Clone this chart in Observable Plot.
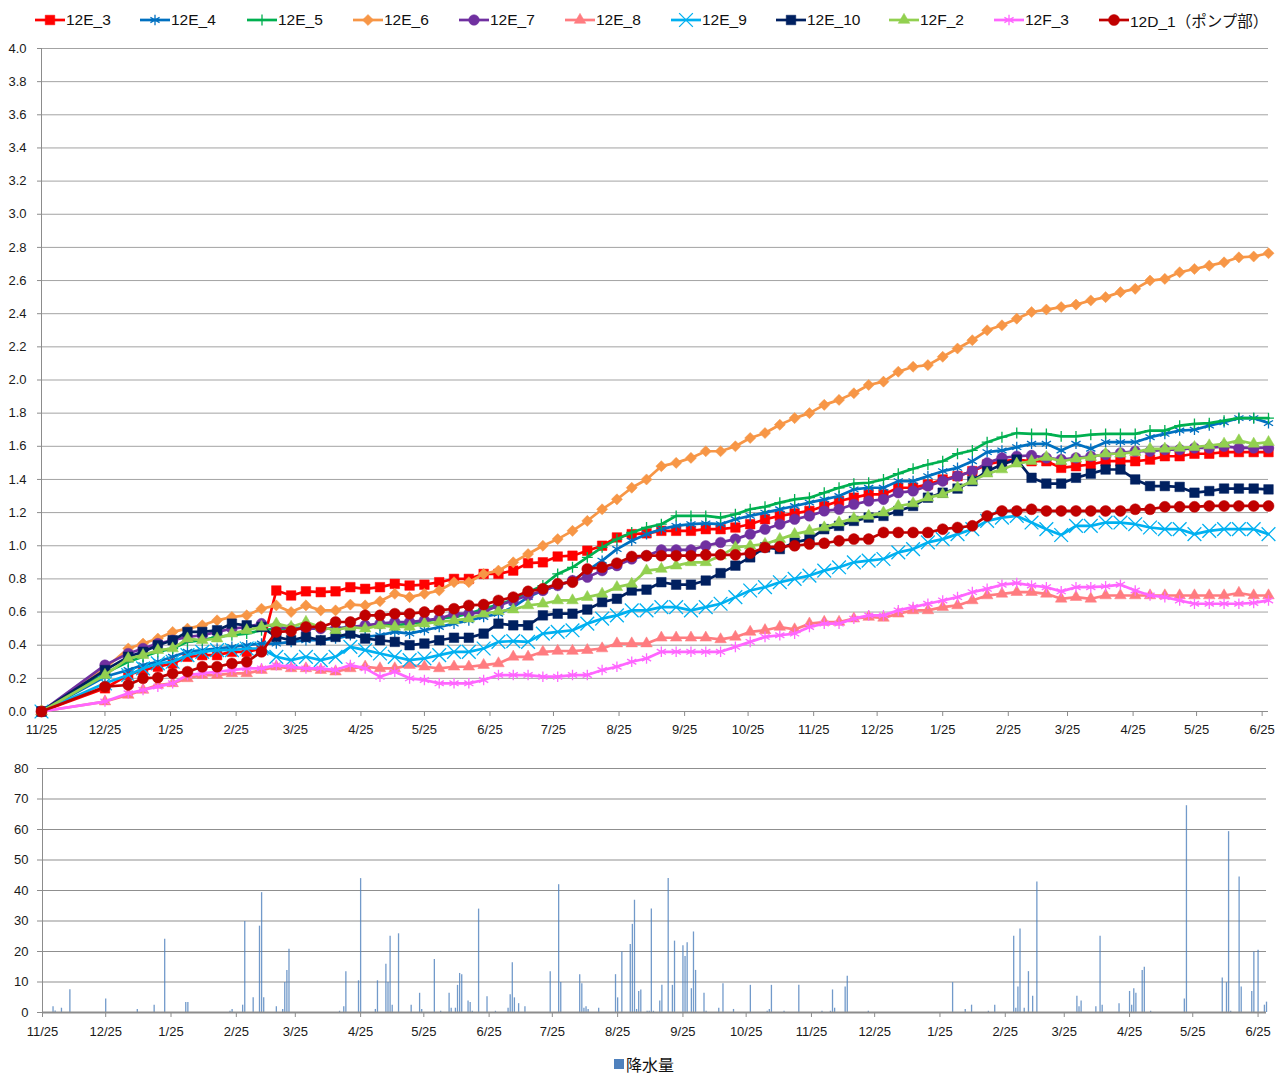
<!DOCTYPE html>
<html><head><meta charset="utf-8">
<script src="https://cdn.jsdelivr.net/npm/d3@7"></script>
<script src="https://cdn.jsdelivr.net/npm/@observablehq/plot@0.6"></script>
<style>
body{margin:0;background:#fff;font-family:"Liberation Sans","Noto Sans CJK JP",sans-serif;}
#wrap{position:relative;width:1287px;height:1075px;overflow:hidden;background:#fff;}
.li{position:absolute;top:10px;height:20px;display:flex;align-items:center;font-size:15.5px;color:#111;white-space:nowrap;}
.li svg{display:block;margin-right:1px;}
#topchart{position:absolute;left:0;top:40px;}
#bottomchart{position:absolute;left:0;top:740px;}
#leg2{position:absolute;left:614px;top:1052px;display:flex;align-items:center;font-size:16px;color:#111;font-family:"Noto Sans CJK JP",sans-serif;}
#leg2 span.sq{display:inline-block;width:10px;height:10px;background:#4F81BD;margin-right:2px;}
</style></head><body>
<div id="wrap"><div id="legend"></div><div id="topchart"></div><div id="bottomchart"></div>
<div id="leg2"><span class="sq"></span><span>降水量</span></div></div>
<script>
// ---------- data ----------
const dates = ["2012-11-25","2012-12-25",
"2013-01-05","2013-01-12","2013-01-19","2013-01-26","2013-02-02","2013-02-09","2013-02-16","2013-02-23",
"2013-03-02","2013-03-09","2013-03-16","2013-03-23","2013-03-30","2013-04-06","2013-04-13","2013-04-20","2013-04-27",
"2013-05-04","2013-05-11","2013-05-18","2013-05-25","2013-06-01","2013-06-08","2013-06-15","2013-06-22","2013-06-29",
"2013-07-06","2013-07-13","2013-07-20","2013-07-27","2013-08-03","2013-08-10","2013-08-17","2013-08-24","2013-08-31",
"2013-09-07","2013-09-14","2013-09-21","2013-09-28","2013-10-05","2013-10-12","2013-10-19","2013-10-26",
"2013-11-02","2013-11-09","2013-11-16","2013-11-23","2013-11-30","2013-12-07","2013-12-14","2013-12-21","2013-12-28",
"2014-01-04","2014-01-11","2014-01-18","2014-01-25","2014-02-01","2014-02-08","2014-02-15","2014-02-22",
"2014-03-01","2014-03-08","2014-03-15","2014-03-22","2014-03-29","2014-04-05","2014-04-12","2014-04-19","2014-04-26",
"2014-05-03","2014-05-10","2014-05-17","2014-05-24","2014-05-31","2014-06-07","2014-06-14","2014-06-21","2014-06-28"];

const s12E_3 = [0,0.14,0.22,0.25,0.27,0.29,0.33,0.34,0.34,0.36,0.36,0.38,
0.73,0.70,0.725,0.72,0.725,0.75,0.74,0.75,0.77,0.76,
0.765,0.78,0.80,0.80,0.83,0.83,0.85,0.895,0.90,0.935,
0.94,0.97,1.00,1.05,1.07,1.075,1.09,1.09,1.09,1.10,
1.10,1.11,1.13,1.16,1.18,1.195,1.21,1.24,1.27,1.29,
1.31,1.31,1.35,1.35,1.37,1.40,1.42,1.45,1.49,1.51,
1.52,1.51,1.51,1.47,1.48,1.49,1.51,1.51,1.51,1.52,
1.54,1.54,1.555,1.555,1.565,1.565,1.565,1.565];
const s12E_4 = [0,0.21,0.25,0.28,0.30,0.33,0.36,0.37,0.38,0.39,0.40,0.41,
0.41,0.42,0.43,0.43,0.44,0.46,0.45,0.46,0.48,0.47,
0.49,0.51,0.53,0.55,0.57,0.59,0.63,0.69,0.73,0.76,
0.79,0.85,0.91,0.98,1.03,1.07,1.10,1.12,1.13,1.135,
1.13,1.16,1.18,1.20,1.22,1.24,1.26,1.28,1.30,1.34,
1.35,1.35,1.39,1.39,1.42,1.45,1.47,1.51,1.565,1.575,
1.595,1.615,1.615,1.575,1.615,1.585,1.625,1.625,1.625,1.655,
1.675,1.695,1.70,1.725,1.745,1.77,1.77,1.74];
const s12E_5 = [0,0.23,0.30,0.33,0.36,0.38,0.42,0.43,0.45,0.46,0.47,0.49,
0.50,0.50,0.51,0.50,0.50,0.51,0.51,0.52,0.52,0.53,
0.54,0.56,0.57,0.59,0.62,0.645,0.675,0.72,0.76,0.83,
0.87,0.93,0.99,1.04,1.08,1.11,1.13,1.18,1.18,1.18,
1.17,1.19,1.22,1.235,1.26,1.28,1.29,1.32,1.35,1.375,
1.38,1.40,1.435,1.465,1.49,1.51,1.555,1.575,1.625,1.655,
1.68,1.675,1.675,1.66,1.66,1.67,1.675,1.675,1.675,1.695,
1.695,1.725,1.735,1.74,1.755,1.77,1.77,1.77];
const s12E_6 = [0,0.26,0.38,0.41,0.44,0.48,0.50,0.52,0.55,0.57,0.58,0.62,
0.64,0.60,0.64,0.61,0.61,0.645,0.64,0.665,0.71,0.69,
0.71,0.73,0.78,0.78,0.83,0.85,0.90,0.95,1.00,1.04,
1.09,1.15,1.22,1.28,1.35,1.40,1.48,1.50,1.53,1.57,
1.57,1.60,1.65,1.68,1.73,1.77,1.80,1.85,1.88,1.92,
1.97,1.99,2.05,2.08,2.09,2.14,2.19,2.24,2.30,2.33,
2.37,2.41,2.425,2.44,2.455,2.48,2.50,2.53,2.55,2.60,
2.61,2.65,2.67,2.69,2.71,2.74,2.745,2.765];
const s12E_7 = [0,0.28,0.35,0.38,0.41,0.43,0.45,0.46,0.48,0.50,0.51,0.53,
0.51,0.50,0.50,0.50,0.50,0.51,0.52,0.53,0.54,0.54,
0.55,0.56,0.59,0.59,0.60,0.64,0.67,0.70,0.73,0.76,
0.79,0.81,0.85,0.88,0.92,0.94,0.975,0.975,0.975,1.00,
1.02,1.04,1.07,1.10,1.13,1.16,1.18,1.21,1.22,1.25,
1.27,1.28,1.32,1.33,1.36,1.39,1.42,1.45,1.50,1.53,
1.54,1.545,1.53,1.52,1.53,1.54,1.55,1.56,1.57,1.57,
1.58,1.58,1.59,1.59,1.60,1.59,1.59,1.59];
const s12E_8 = [0,0.06,0.10,0.13,0.16,0.17,0.20,0.22,0.22,0.23,0.23,0.25,
0.27,0.26,0.26,0.25,0.24,0.26,0.27,0.26,0.26,0.28,
0.27,0.26,0.27,0.27,0.28,0.29,0.33,0.33,0.36,0.365,
0.365,0.37,0.38,0.41,0.41,0.41,0.445,0.445,0.445,0.445,
0.435,0.45,0.48,0.49,0.51,0.495,0.53,0.54,0.54,0.56,
0.57,0.565,0.59,0.61,0.61,0.63,0.64,0.67,0.70,0.71,
0.72,0.72,0.71,0.68,0.69,0.68,0.70,0.70,0.70,0.70,
0.70,0.70,0.70,0.70,0.70,0.715,0.70,0.70];
const s12E_9 = [0,0.17,0.22,0.26,0.29,0.30,0.34,0.36,0.37,0.37,0.38,0.38,
0.33,0.31,0.33,0.31,0.33,0.39,0.37,0.35,0.33,0.31,
0.32,0.34,0.36,0.36,0.38,0.42,0.425,0.42,0.47,0.48,
0.49,0.53,0.56,0.58,0.61,0.61,0.63,0.63,0.61,0.63,
0.65,0.69,0.73,0.75,0.78,0.80,0.82,0.85,0.87,0.90,
0.91,0.92,0.96,0.98,1.02,1.04,1.07,1.10,1.15,1.17,
1.18,1.14,1.10,1.065,1.12,1.12,1.14,1.14,1.13,1.11,
1.10,1.10,1.07,1.09,1.10,1.10,1.10,1.07];
const s12E_10 = [0,0.25,0.33,0.36,0.40,0.43,0.48,0.48,0.49,0.53,0.52,0.51,
0.45,0.43,0.45,0.43,0.45,0.47,0.44,0.43,0.42,0.40,
0.41,0.43,0.445,0.445,0.47,0.53,0.52,0.52,0.58,0.59,
0.59,0.615,0.66,0.68,0.73,0.735,0.78,0.765,0.765,0.79,
0.835,0.88,0.93,0.99,0.98,1.02,1.04,1.10,1.12,1.15,
1.17,1.18,1.21,1.24,1.29,1.32,1.345,1.39,1.45,1.49,
1.52,1.41,1.375,1.375,1.41,1.435,1.46,1.46,1.40,1.36,
1.36,1.355,1.32,1.33,1.345,1.345,1.345,1.34];
const s12F_2 = [0,0.22,0.32,0.34,0.37,0.38,0.44,0.43,0.44,0.47,0.49,0.51,
0.53,0.51,0.54,0.51,0.49,0.51,0.50,0.52,0.51,0.51,
0.53,0.54,0.55,0.56,0.59,0.605,0.615,0.64,0.65,0.67,
0.67,0.69,0.71,0.75,0.77,0.85,0.86,0.88,0.90,0.90,
0.94,0.99,1.00,1.01,1.04,1.07,1.09,1.11,1.14,1.165,
1.18,1.20,1.24,1.255,1.29,1.31,1.35,1.39,1.435,1.46,
1.495,1.51,1.535,1.51,1.525,1.535,1.555,1.555,1.565,1.585,
1.585,1.59,1.595,1.605,1.615,1.635,1.615,1.625];
const s12F_3 = [0,0.06,0.11,0.13,0.15,0.17,0.22,0.23,0.24,0.25,0.26,0.26,
0.28,0.27,0.26,0.26,0.25,0.28,0.26,0.21,0.24,0.20,
0.19,0.17,0.17,0.17,0.19,0.22,0.22,0.22,0.21,0.21,
0.22,0.22,0.25,0.27,0.30,0.32,0.36,0.36,0.36,0.36,
0.36,0.39,0.42,0.45,0.46,0.47,0.51,0.53,0.53,0.56,
0.58,0.58,0.61,0.63,0.65,0.67,0.69,0.72,0.74,0.765,
0.775,0.76,0.75,0.725,0.75,0.75,0.755,0.765,0.73,0.70,
0.69,0.67,0.65,0.65,0.65,0.65,0.655,0.67];
const s12D_1 = [0,0.15,0.16,0.20,0.205,0.23,0.24,0.27,0.27,0.29,0.30,0.36,
0.48,0.485,0.51,0.51,0.54,0.54,0.58,0.58,0.59,0.59,
0.60,0.61,0.62,0.64,0.645,0.67,0.69,0.725,0.74,0.77,
0.78,0.86,0.87,0.895,0.935,0.94,0.94,0.94,0.94,0.945,
0.945,0.945,0.955,0.99,0.995,1.00,1.01,1.015,1.03,1.04,
1.04,1.08,1.08,1.08,1.08,1.10,1.11,1.12,1.18,1.21,
1.21,1.22,1.21,1.21,1.21,1.21,1.21,1.21,1.22,1.22,
1.235,1.235,1.235,1.24,1.24,1.24,1.24,1.24];

const seriesNames = ["12E_3","12E_4","12E_5","12E_6","12E_7","12E_8","12E_9","12E_10","12F_2","12F_3","12D_1（ポンプ部）"];
const seriesValues = [s12E_3,s12E_4,s12E_5,s12E_6,s12E_7,s12E_8,s12E_9,s12E_10,s12F_2,s12F_3,s12D_1];
const seriesColors = ["#FF0000","#0070C0","#00B050","#F79646","#7030A0","#FF7C80","#00B0F0","#002060","#92D050","#FF66FF","#C00000"];

// precipitation (mm), day offset from 2012-11-25
const rainBase = "2012-11-25";
const rainDay = [5,6,9,13,30,45,53,58,68,69,89,90,95,96,100,103,104,105,111,114,115,116,117,141,143,144,150,151,158,159,163,164,165,166,169,175,179,180,186,189,193,194,196,197,198,199,202,203,204,207,211,215,221,222,223,224,226,229,241,245,246,255,256,257,258,259,264,272,273,275,279,280,281,282,283,284,287,288,289,290,293,294,297,299,300,304,305,306,308,309,310,314,315,321,323,328,336,344,345,346,352,359,370,374,375,376,381,382,392,432,438,441,449,452,461,462,463,464,466,468,470,472,491,492,493,500,502,503,511,516,517,518,519,522,523,526,542,543,560,562,563,564,568,569,574,575,577,580,581];
const rainMm = [1.9,0.5,1.4,7.5,4.4,1.0,2.4,24.0,3.3,3.3,0.4,1.0,2.4,29.8,4.8,28.3,39.3,4.8,1.9,1.0,9.8,13.8,20.7,0.4,1.9,13.4,10.4,43.9,1.0,10.4,15.8,9.8,25.0,2.4,25.8,2.4,6.3,1.0,17.4,0.4,6.3,1.4,1.4,8.9,12.8,12.4,3.8,3.3,0.4,33.9,5.2,0.4,1.4,5.8,16.3,4.8,2.9,1.9,13.4,41.9,9.8,12.4,9.4,1.4,1.9,1.0,1.4,12.4,4.8,19.8,22.3,28.9,36.8,1.0,6.9,7.4,0.4,0.4,33.9,0.4,3.8,8.9,43.9,8.9,23.4,21.9,18.4,22.9,7.8,26.4,13.8,6.3,0.4,1.4,9.4,1.0,8.9,0.4,1.0,8.9,0.4,8.9,0.4,0.4,7.4,1.4,8.4,11.9,0.4,9.8,1.0,2.4,0.4,2.4,25.0,1.4,8.4,27.4,1.4,13.4,5.3,42.8,5.3,1.9,3.8,1.9,25.0,2.4,2.9,6.9,2.4,7.8,6.3,13.8,14.8,0.4,4.4,67.8,11.3,9.8,59.3,0.4,44.4,8.4,6.9,19.8,20.4,2.4,3.4];

const xTicks = ["2012-11-25","2012-12-25","2013-01-25","2013-02-25","2013-03-25","2013-04-25","2013-05-25","2013-06-25","2013-07-25","2013-08-25","2013-09-25","2013-10-25","2013-11-25","2013-12-25","2014-01-25","2014-02-25","2014-03-25","2014-04-25","2014-05-25","2014-06-25"];
const yTicksTop = [0,0.2,0.4,0.6,0.8,1.0,1.2,1.4,1.6,1.8,2.0,2.2,2.4,2.6,2.8,3.0,3.2,3.4,3.6,3.8,4.0];
const yTicksBottom = [0,10,20,30,40,50,60,70,80];

(function(){
// ---------- marker styles ----------
const markers = [
  {symbol:"square", r:5.4, filled:true},
  {symbol:"asterisk", r:5, filled:false},
  {symbol:"plus", r:3.6, filled:false},
  {symbol:"diamond2", r:5, filled:true},
  {symbol:"circle", r:5.3, filled:true},
  {symbol:"triangle", r:4.3, filled:true},
  {symbol:"times", r:6.3, filled:false},
  {symbol:"square", r:5.4, filled:true},
  {symbol:"triangle", r:4.3, filled:true},
  {symbol:"asterisk", r:5, filled:false},
  {symbol:"circle", r:5.5, filled:true}
];

const parse = d3.utcParse("%Y-%m-%d");
const fmt = d => `${d.getUTCMonth()+1}/${d.getUTCDate()}`;
const dateObjs = dates.map(parse);
const tickObjs = xTicks.map(parse);
const font = '"Liberation Sans","Noto Sans CJK JP",sans-serif';

// ---------- top chart ----------
const marks = [];
marks.push(Plot.ruleY(yTicksTop, {stroke:"#a3a3a3", strokeWidth:1}));
marks.push(Plot.ruleX([parse("2012-11-25")], {stroke:"#8c8c8c"}));
marks.push(Plot.ruleY([0], {stroke:"#8c8c8c"}));
marks.push(Plot.axisY({ticks:yTicksTop, tickFormat:d=>d.toFixed(1), tickSize:4, tickPadding:11, stroke:"#8c8c8c", fill:"#1a1a1a", label:null}));
marks.push(Plot.axisX({ticks:tickObjs, tickFormat:fmt, tickSize:5, tickPadding:8, stroke:"#8c8c8c", fill:"#1a1a1a", label:null}));
seriesValues.forEach((vals, i) => {
  const rows = vals.map((v, j) => ({date: dateObjs[j], value: v}));
  const c = seriesColors[i], m = markers[i];
  marks.push(Plot.line(rows, {x:"date", y:"value", stroke:c, strokeWidth:2.7}));
  marks.push(Plot.dot(rows, m.filled
    ? {x:"date", y:"value", symbol:m.symbol, r:m.r, fill:c, stroke:c, strokeWidth:0.5}
    : {x:"date", y:"value", symbol:m.symbol, r:m.r, stroke:c, strokeWidth:1.3}));
});
const topChart = Plot.plot({
  width:1287, height:700, marginTop:8, marginBottom:29, marginLeft:41, marginRight:19,
  style:{fontSize:"13px", fontFamily:font, background:"transparent"},
  x:{type:"utc", domain:[parse("2012-11-25"), parse("2014-06-28")]},
  y:{domain:[0,4]},
  marks
});
document.getElementById("topchart").appendChild(topChart);

// ---------- bottom chart ----------
const base = parse(rainBase);
const rain = rainDay.map((d, i) => ({date: d3.utcDay.offset(base, d), mm: rainMm[i]}));
const bottomChart = Plot.plot({
  width:1287, height:305, marginTop:28, marginBottom:33, marginLeft:42, marginRight:21,
  style:{fontSize:"13px", fontFamily:font, background:"transparent"},
  x:{type:"utc", domain:[parse("2012-11-25"), parse("2014-06-29")]},
  y:{domain:[0,80]},
  marks:[
    Plot.ruleY(yTicksBottom, {stroke:"#8f8f8f", strokeWidth:1}),
    Plot.ruleX([parse("2012-11-25")], {stroke:"#8c8c8c"}),
    Plot.axisY({ticks:yTicksBottom, tickSize:5, tickPadding:9, stroke:"#8c8c8c", fill:"#1a1a1a", label:null}),
    Plot.axisX({ticks:tickObjs, tickFormat:fmt, tickSize:5, tickPadding:9, stroke:"#8c8c8c", fill:"#1a1a1a", label:null}),
    Plot.ruleX(rain, {x:"date", y1:0, y2:"mm", stroke:"#4F81BD", strokeWidth:1.3, strokeOpacity:0.8}),
    Plot.ruleY([0], {stroke:"#8c8c8c", strokeWidth:2})
  ]
});
document.getElementById("bottomchart").appendChild(bottomChart);

// ---------- legend ----------
const legX = [35,140,247,353,459,565,671,776,889,994,1099];
const symMap = {square:d3.symbolSquare, asterisk:d3.symbolAsterisk, plus:d3.symbolPlus, diamond2:d3.symbolDiamond2, circle:d3.symbolCircle, triangle:d3.symbolTriangle, times:d3.symbolTimes};
const leg = d3.select("#legend");
seriesNames.forEach((name, i) => {
  const item = leg.append("div").attr("class","li").style("left", legX[i]+"px");
  const svg = item.append("svg").attr("width",30).attr("height",16);
  const c = seriesColors[i], m = markers[i];
  svg.append("line").attr("x1",0).attr("x2",30).attr("y1",8).attr("y2",8).attr("stroke",c).attr("stroke-width",2.7);
  svg.append("path").attr("transform","translate(15,8)")
    .attr("d", d3.symbol(symMap[m.symbol], m.r*m.r*Math.PI)())
    .attr("fill", m.filled ? c : "none").attr("stroke", c).attr("stroke-width", m.filled ? 0.5 : 1.3);
  item.append("span").text(name);
});
})();
</script>
</body></html>
